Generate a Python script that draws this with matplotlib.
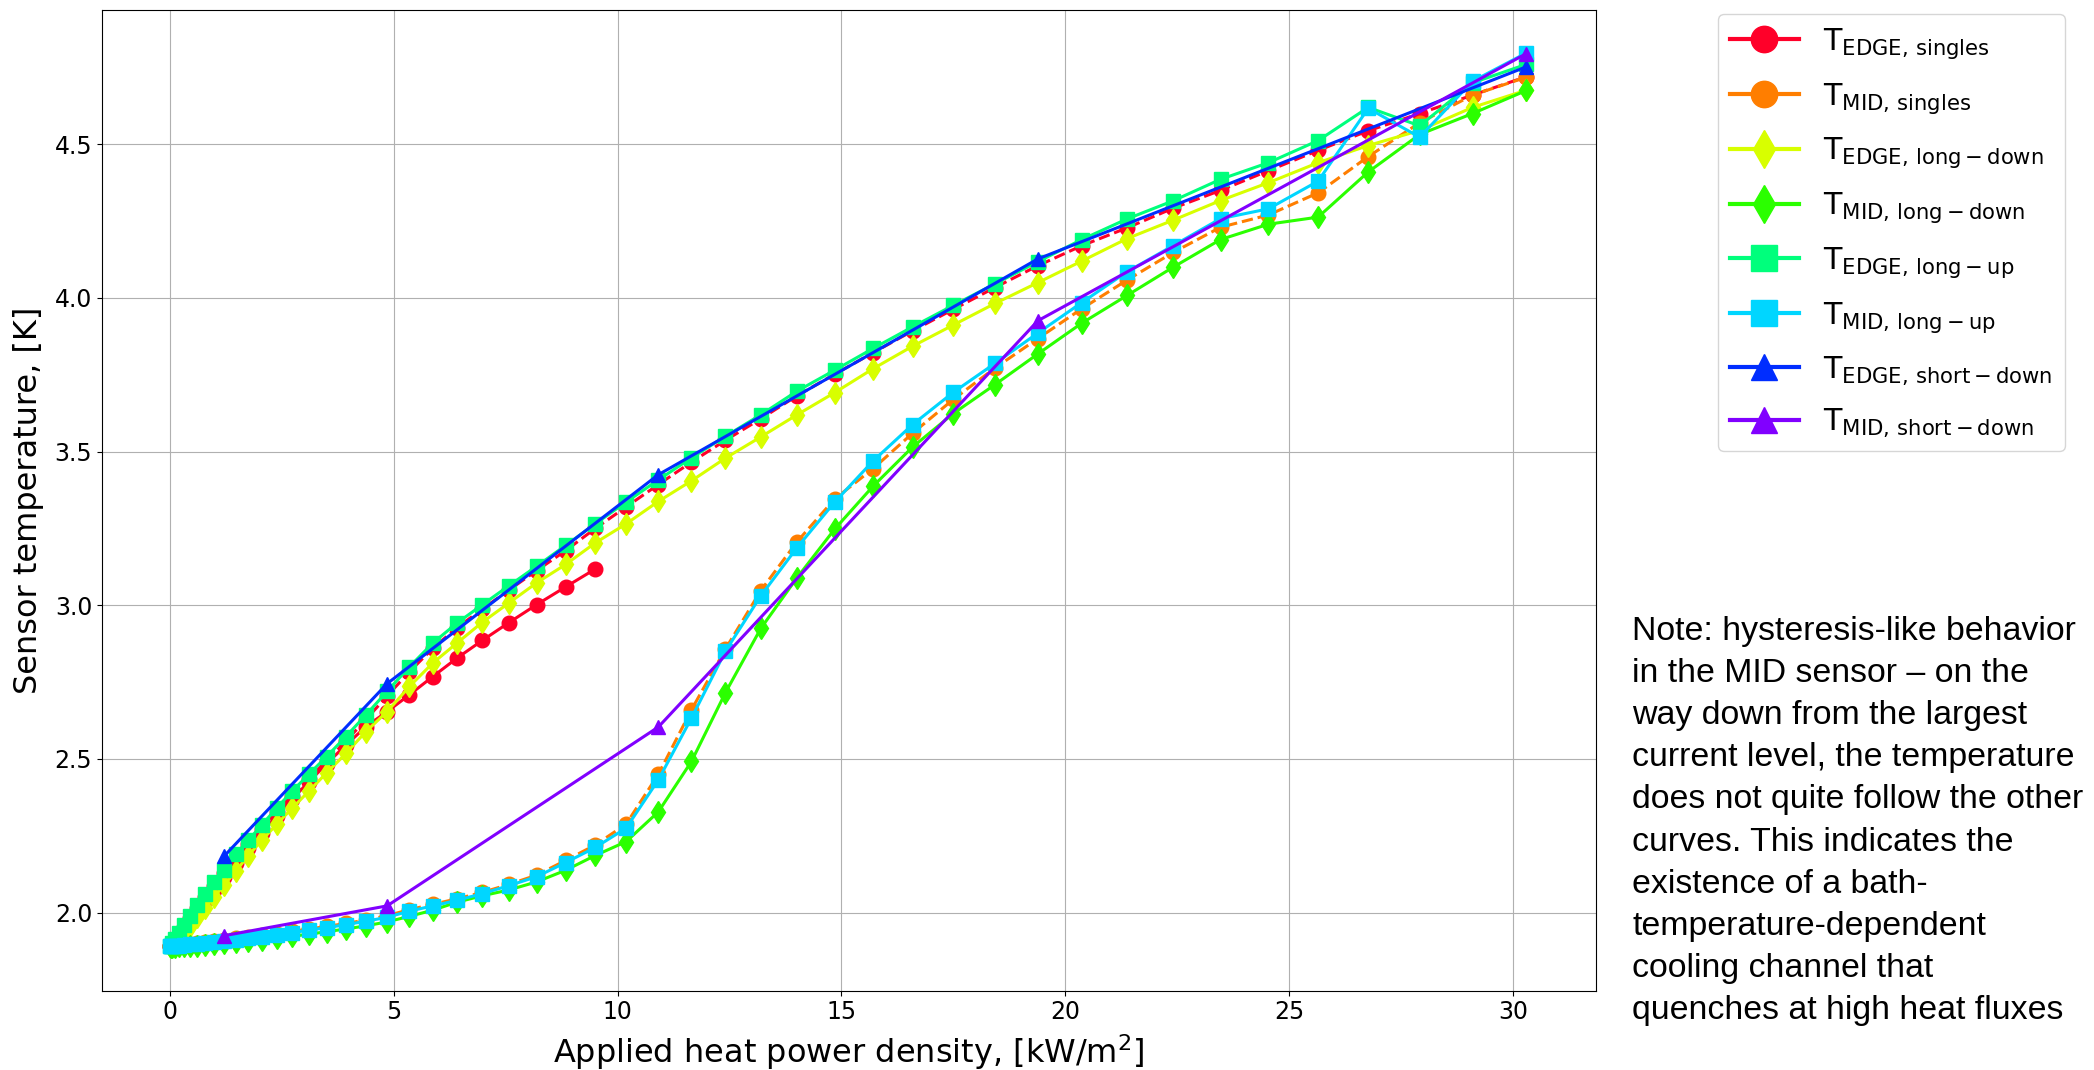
import numpy as np
import matplotlib
matplotlib.use("Agg")
import matplotlib.pyplot as plt
from matplotlib.lines import Line2D

# === Data ===

# heat power density levels, kW/m^2
x_levels = [0.0, 0.012, 0.048, 0.109, 0.194, 0.303, 0.436, 0.594, 0.776, 0.98,
            1.21, 1.47, 1.745, 2.05, 2.38, 2.73, 3.10, 3.50, 3.93, 4.375,
            4.85, 5.35, 5.87, 6.41, 6.98, 7.575, 8.19, 8.84, 9.50, 10.19,
            10.91, 11.65, 12.41, 13.20, 14.01, 14.85, 15.71, 16.59, 17.50, 18.43,
            19.39, 20.37, 21.38, 22.41, 23.47, 24.54, 25.65, 26.77, 27.92, 29.10,
            30.30]

# singles, first run (stops at 9.5)
edge_singles_run1 = [1.890, 1.893, 1.899, 1.910, 1.926, 1.948, 1.975, 2.005, 2.040, 2.075,
                     2.115, 2.160, 2.210, 2.260, 2.315, 2.370, 2.425, 2.485, 2.545, 2.605,
                     2.654, 2.709, 2.768, 2.828, 2.886, 2.944, 3.002, 3.060, 3.118]

edge_singles = [1.890, 1.892, 1.898, 1.911, 1.930, 1.953, 1.982, 2.015, 2.050, 2.088,
                2.128, 2.176, 2.222, 2.272, 2.326, 2.380, 2.436, 2.494, 2.558, 2.628,
                2.705, 2.784, 2.860, 2.927, 2.988, 3.050, 3.113, 3.178, 3.250, 3.320,
                3.393, 3.466, 3.537, 3.607, 3.682, 3.752, 3.822, 3.893, 3.963, 4.034,
                4.105, 4.170, 4.228, 4.292, 4.350, 4.414, 4.480, 4.544, 4.600, 4.660,
                4.720]

mid_singles = [1.891, 1.891, 1.892, 1.893, 1.895, 1.897, 1.899, 1.902, 1.905, 1.908,
               1.912, 1.916, 1.921, 1.926, 1.932, 1.939, 1.947, 1.955, 1.965, 1.976,
               1.990, 2.010, 2.027, 2.045, 2.066, 2.092, 2.122, 2.170, 2.220, 2.288,
               2.450, 2.660, 2.858, 3.048, 3.207, 3.346, 3.445, 3.560, 3.670, 3.772,
               3.868, 3.965, 4.058, 4.148, 4.230, 4.270, 4.342, 4.460, 4.570, 4.660,
               4.718]

edge_long_down = [1.890, 1.892, 1.896, 1.905, 1.917, 1.935, 1.958, 1.985, 2.015, 2.050,
                  2.090, 2.135, 2.185, 2.235, 2.287, 2.340, 2.395, 2.455, 2.518, 2.589,
                  2.654, 2.736, 2.812, 2.877, 2.945, 3.008, 3.073, 3.133, 3.203, 3.265,
                  3.338, 3.405, 3.479, 3.548, 3.620, 3.692, 3.770, 3.843, 3.912, 3.982,
                  4.050, 4.120, 4.193, 4.253, 4.317, 4.375, 4.440, 4.496, 4.545, 4.620,
                  4.676]

mid_long_down = [1.890, 1.889, 1.889, 1.889, 1.890, 1.891, 1.892, 1.893, 1.895, 1.897,
                 1.900, 1.903, 1.907, 1.912, 1.917, 1.923, 1.930, 1.938, 1.947, 1.957,
                 1.970, 1.988, 2.008, 2.034, 2.055, 2.074, 2.100, 2.138, 2.186, 2.231,
                 2.328, 2.492, 2.716, 2.925, 3.090, 3.248, 3.388, 3.515, 3.624, 3.718,
                 3.818, 3.918, 4.008, 4.100, 4.190, 4.240, 4.263, 4.410, 4.532, 4.600,
                 4.675]

edge_long_up = [1.890, 1.893, 1.900, 1.915, 1.935, 1.960, 1.990, 2.025, 2.060, 2.100,
                2.140, 2.190, 2.235, 2.285, 2.340, 2.395, 2.450, 2.508, 2.573, 2.643,
                2.720, 2.800, 2.877, 2.942, 3.002, 3.064, 3.127, 3.195, 3.265, 3.336,
                3.408, 3.480, 3.550, 3.620, 3.697, 3.765, 3.836, 3.906, 3.976, 4.046,
                4.118, 4.190, 4.257, 4.316, 4.386, 4.440, 4.512, 4.620, 4.560, 4.700,
                4.760]

mid_long_up = [1.890, 1.890, 1.891, 1.892, 1.893, 1.895, 1.897, 1.899, 1.902, 1.905,
               1.908, 1.912, 1.917, 1.922, 1.928, 1.935, 1.943, 1.951, 1.961, 1.972,
               1.985, 2.005, 2.022, 2.040, 2.062, 2.088, 2.117, 2.163, 2.212, 2.275,
               2.432, 2.633, 2.851, 3.031, 3.188, 3.336, 3.470, 3.588, 3.693, 3.787,
               3.886, 3.985, 4.085, 4.170, 4.258, 4.290, 4.380, 4.617, 4.523, 4.705,
               4.797]

x_short = [1.21, 4.85, 10.91, 19.39, 30.30]
edge_short_down = [2.184, 2.745, 3.425, 4.127, 4.752]
mid_short_down = [1.925, 2.022, 2.604, 3.926, 4.795]

labels = [r"$T_{EDGE,\,singles}$", r"$T_{MID,\,singles}$",
          r"$T_{EDGE,\,long-down}$", r"$T_{MID,\,long-down}$",
          r"$T_{EDGE,\,long-up}$", r"$T_{MID,\,long-up}$",
          r"$T_{EDGE,\,short-down}$", r"$T_{MID,\,short-down}$"]
markers = ["o", "o", "d", "d", "s", "s", "^", "^"]

note = ("Note: hysteresis-like behavior\n"
        "in the MID sensor \u2013 on the\n"
        "way down from the largest\n"
        "current level, the temperature\n"
        "does not quite follow the other\n"
        "curves. This indicates the\n"
        "existence of a bath-\n"
        "temperature-dependent\n"
        "cooling channel that\n"
        "quenches at high heat fluxes")

# colors
colors = plt.cm.gist_rainbow(np.linspace(0, 0.86, 8))

plt.rcParams["mathtext.default"] = "regular"

# === Plot ===

fig = plt.figure(figsize=(20.94, 10.70), dpi=100)
ax = fig.add_axes([0.0487, 0.0741, 0.7133, 0.9163])

lw = 2.2
ms = 10.5

n1 = len(edge_singles_run1)
ax.plot(x_levels[:n1], edge_singles_run1, "-", marker="o", color=colors[0], lw=lw, ms=ms)
ax.plot(x_levels, edge_singles, "--", marker="o", color=colors[0], lw=lw, ms=ms)
ax.plot(x_levels, mid_singles, "--", marker="o", color=colors[1], lw=lw, ms=ms)

ax.plot(x_levels, edge_long_down, "-", marker="d", color=colors[2], lw=lw, ms=ms + 1)
ax.plot(x_levels, mid_long_down, "-", marker="d", color=colors[3], lw=lw, ms=ms + 1)

ax.plot(x_levels, edge_long_up, "-", marker="s", color=colors[4], lw=lw, ms=ms)
ax.plot(x_levels, mid_long_up, "-", marker="s", color=colors[5], lw=lw, ms=ms)

ax.plot(x_short, edge_short_down, "-", marker="^", color=colors[6], lw=lw, ms=ms)
ax.plot(x_short, mid_short_down, "-", marker="^", color=colors[7], lw=lw, ms=ms)

ax.set_xlim(-1.52, 31.85)
ax.set_ylim(1.746, 4.936)
ax.set_xticks([0, 5, 10, 15, 20, 25, 30])
ax.set_yticks([2.0, 2.5, 3.0, 3.5, 4.0, 4.5])
ax.tick_params(labelsize=17)
ax.grid(True)

ax.set_xlabel(r"Applied heat power density, [kW/m$^2$]", fontsize=23, labelpad=6)
ax.set_ylabel("Sensor temperature, [K]", fontsize=23, labelpad=8)

handles = [Line2D([], [], color=colors[i], marker=markers[i], ls="-", lw=3, ms=19)
           for i in range(8)]
fig.legend(handles, labels, loc="upper right", bbox_to_anchor=(0.986, 0.987),
           bbox_transform=fig.transFigure, borderaxespad=0, fontsize=21.7,
           handlelength=2.3, labelspacing=0.66)

fig.text(0.7794, 0.2327, note, family="Liberation Sans", fontsize=24.4,
         ha="left", va="center", linespacing=1.465)

fig.savefig("out.png", dpi=100)
